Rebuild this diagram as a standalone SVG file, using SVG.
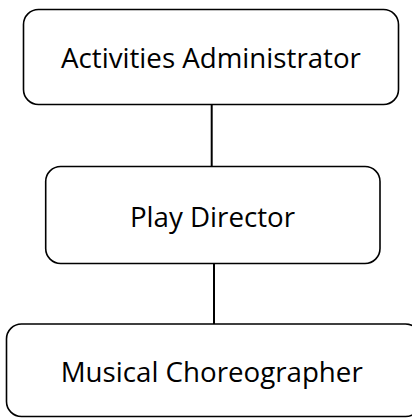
<svg xmlns="http://www.w3.org/2000/svg" width="412" height="418" viewBox="0 0 412 418">
<style>
.box{fill:#fff;stroke:#000;stroke-width:1.6}
.lbl{font-family:"Open Sans","Noto Sans","Liberation Sans",sans-serif;font-size:27.7px;fill:#000;text-anchor:middle}
.conn{stroke:#000;stroke-width:2;fill:none}
</style>
<rect width="412" height="418" fill="#fff"/>
<g id="connectors">
<line class="conn" x1="211.7" y1="104.5" x2="211.7" y2="166.5"/>
<line class="conn" x1="214" y1="263.5" x2="214" y2="324"/>
</g>
<g id="node-activities-administrator">
<rect class="box" x="23.5" y="9.5" width="375" height="95" rx="15"/>
<text class="lbl" x="211" y="68">Activities Administrator</text>
</g>
<g id="node-play-director">
<rect class="box" x="45.7" y="166.5" width="334.3" height="97" rx="15"/>
<text class="lbl" x="212.5" y="227.3">Play Director</text>
</g>
<g id="node-musical-choreographer">
<rect class="box" x="6.5" y="324" width="414" height="92.5" rx="15"/>
<text class="lbl" x="211.7" y="381.7">Musical Choreographer</text>
</g>
</svg>
